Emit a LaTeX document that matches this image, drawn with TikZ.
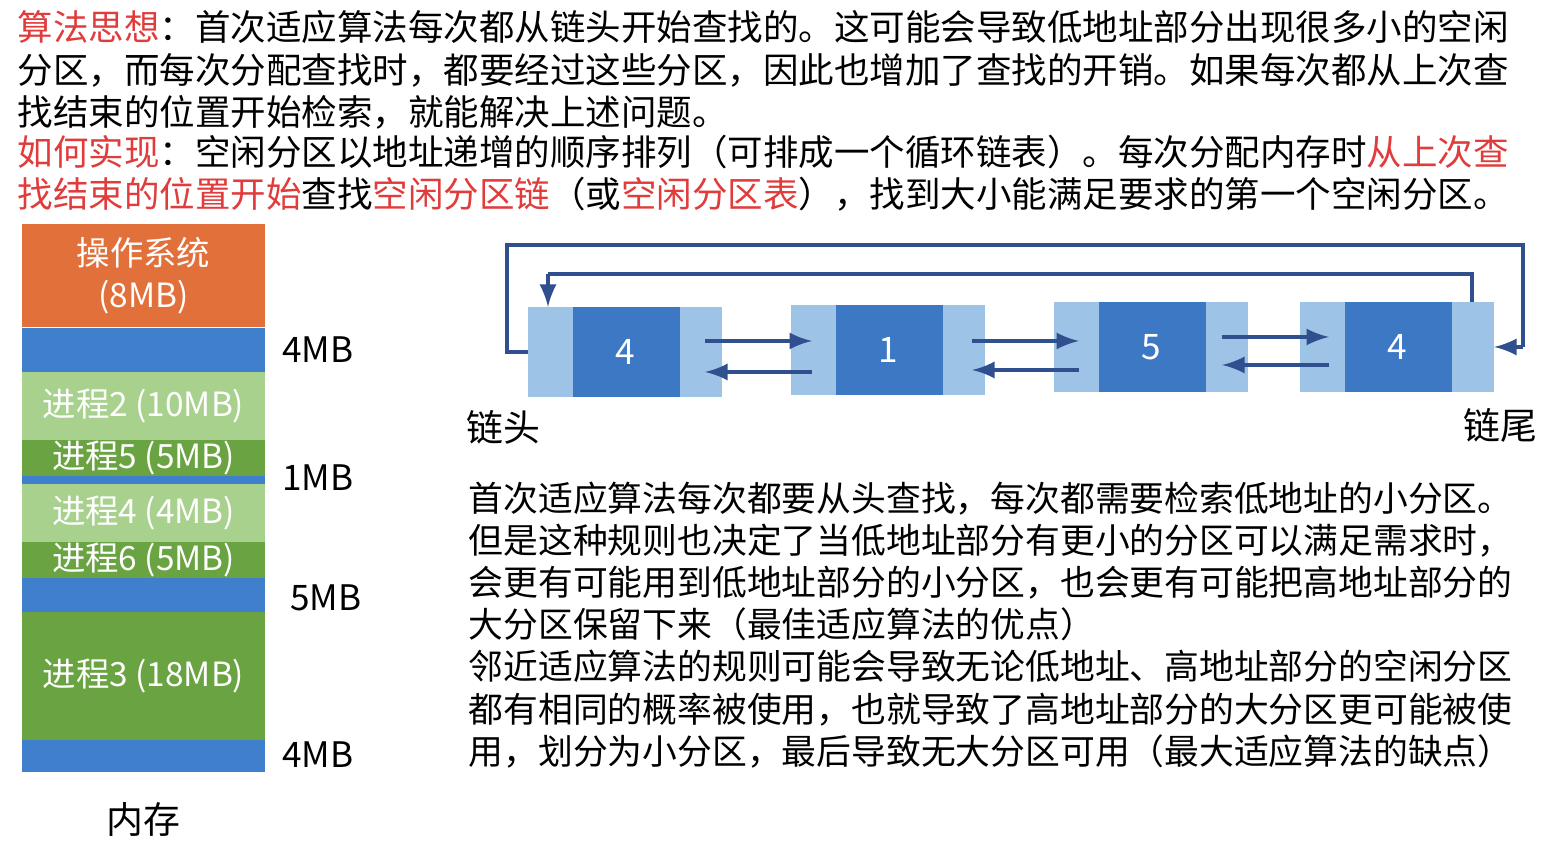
\documentclass[tikz,border=0pt]{standalone}
\usepackage{fontspec}
\setmainfont{Noto Sans CJK SC}
\usetikzlibrary{positioning}
\definecolor{osorange}{HTML}{E2703A}
\definecolor{memblue}{HTML}{3F7FCC}
\definecolor{lgreen}{HTML}{A9D18E}
\definecolor{dgreen}{HTML}{6AA341}
\definecolor{nodelight}{HTML}{9DC3E6}
\definecolor{nodedark}{HTML}{3C78C3}
\definecolor{linkblue}{HTML}{2F4F8F}
\definecolor{hired}{HTML}{E03C3C}
\tikzset{
  memblk/.style={draw=none,minimum width=2.43cm,inner sep=0pt,text=white,font=\fontsize{9.5}{12}\selectfont},
  sizelbl/.style={anchor=west,font=\fontsize{10}{12}\selectfont},
  endlbl/.style={font=\fontsize{10.5}{13}\selectfont},
  link/.style={linkblue,line width=0.9pt},
  linkarr/.style={linkblue,line width=1.2pt,-latex}
}
\newcommand{\hl}[1]{\textcolor{hired}{#1}}
\newcommand{\listnode}[4]{% name, x, y, label
  \fill[nodelight] (#2,#3) rectangle ++(1.94,-0.9);
  \fill[nodedark] (#2+0.45,#3) rectangle ++(1.07,-0.9);
  \node[text=white,font=\fontsize{10}{12}\selectfont] (#1) at (#2+0.97,#3-0.45) {#4};
  \coordinate (#1w) at (#2,#3-0.45);
  \coordinate (#1e) at (#2+1.94,#3-0.45);
  \coordinate (#1n) at (#2+1.72,#3);
  \coordinate (#1nl) at (#2+0.2,#3);
}
\begin{document}
\begin{tikzpicture}
\useasboundingbox (0,0) rectangle (15.67,8.41);

% top text
\node[anchor=north west,align=left,inner sep=0pt,font=\fontsize{10.1}{12.1}\selectfont] (idea) at (0.17,8.31)
  {\hl{算法思想}：首次适应算法每次都从链头开始查找的。这可能会导致低地址部分出现很多小的空闲\\
   分区，而每次分配查找时，都要经过这些分区，因此也增加了查找的开销。如果每次都从上次查\\
   找结束的位置开始检索，就能解决上述问题。};
\node[anchor=north west,align=left,inner sep=0pt,font=\fontsize{10.1}{12.1}\selectfont] (impl) at (0.17,7.07)
  {\hl{如何实现}：空闲分区以地址递增的顺序排列（可排成一个循环链表）。每次分配内存时\hl{从上次查}\\
   \hl{找结束的位置开始}查找\hl{空闲分区链}（或\hl{空闲分区表}），找到大小能满足要求的第一个空闲分区。};

% memory
\node[memblk,fill=osorange,minimum height=1.03cm,align=center] (os) at (1.435,5.65) {操作系统\\(8MB)};
\node[memblk,fill=memblue,minimum height=0.44cm] (f1) at (1.435,4.91) {};
\node[memblk,fill=lgreen,minimum height=0.68cm] (p2) at (1.435,4.35) {进程2 (10MB)};
\node[memblk,fill=dgreen,minimum height=0.36cm] (p5) at (1.435,3.83) {进程5 (5MB)};
\node[memblk,fill=memblue,minimum height=0.08cm] (f2) at (1.435,3.61) {};
\node[memblk,fill=lgreen,minimum height=0.58cm] (p4) at (1.435,3.28) {进程4 (4MB)};
\node[memblk,fill=dgreen,minimum height=0.36cm] (p6) at (1.435,2.81) {进程6 (5MB)};
\node[memblk,fill=memblue,minimum height=0.34cm] (f3) at (1.435,2.46) {};
\node[memblk,fill=dgreen,minimum height=1.28cm] (p3) at (1.435,1.65) {进程3 (18MB)};
\node[memblk,fill=memblue,minimum height=0.32cm] (f4) at (1.435,0.85) {};
\node[sizelbl] at (2.7,4.91) {4MB};
\node[sizelbl] at (2.7,3.63) {1MB};
\node[sizelbl] at (2.78,2.43) {5MB};
\node[sizelbl] at (2.7,0.86) {4MB};
\node[endlbl] (mem) at (1.43,0.21) {内存};

% free list
\listnode{a}{5.28}{5.34}{4}
\listnode{b}{7.91}{5.36}{1}
\listnode{c}{10.54}{5.39}{5}
\listnode{d}{13.00}{5.39}{4}
\foreach \x/\y/\yy in {7.05/5.00/4.69, 9.72/5.00/4.71, 12.22/5.04/4.76}{
  \draw[linkarr] (\x,\y) -- ++(1.07,0);
  \draw[linkarr] (\x+1.07,\yy) -- ++(-1.07,0);
}
\draw[link] (aw) -- ++(-0.21,0) |- (15.23,5.96) -- (15.23,4.94);
\draw[linkarr] (15.23,4.94) -- (de);
\draw[link] (dn) |- (5.48,5.67);
\draw[linkarr] (5.48,5.67) -- (anl);
\node[endlbl] (head) at (5.03,4.14) {链头};
\node[endlbl] (tail) at (15.0,4.16) {链尾};

% lower text
\node[anchor=north west,align=left,inner sep=0pt,font=\fontsize{9.9}{12.0}\selectfont] (note) at (4.68,3.6)
  {首次适应算法每次都要从头查找，每次都需要检索低地址的小分区。\\
   但是这种规则也决定了当低地址部分有更小的分区可以满足需求时，\\
   会更有可能用到低地址部分的小分区，也会更有可能把高地址部分的\\
   大分区保留下来（最佳适应算法的优点）\\
   邻近适应算法的规则可能会导致无论低地址、高地址部分的空闲分区\\
   都有相同的概率被使用，也就导致了高地址部分的大分区更可能被使\\
   用，划分为小分区，最后导致无大分区可用（最大适应算法的缺点）};
\end{tikzpicture}
\end{document}
